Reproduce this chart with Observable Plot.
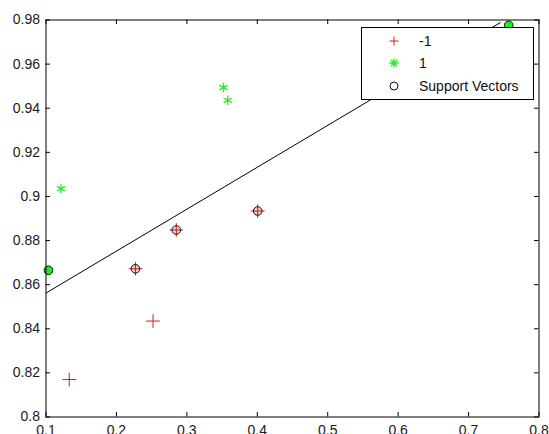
<!DOCTYPE html>
<html>
<head>
<meta charset="utf-8">
<script src="https://cdn.jsdelivr.net/npm/d3@7"></script>
<script src="https://cdn.jsdelivr.net/npm/@observablehq/plot@0.6"></script>
<style>
  html, body { margin: 0; padding: 0; background: #fff; }
  #wrap { position: relative; width: 549px; height: 434px; overflow: hidden; }
  #legend { position: absolute; background: #fff; border: 1px solid #000; box-sizing: border-box;
            font: 14px "Liberation Sans", Arial, sans-serif; color: #111; }
  #legend .row { position: absolute; left: 0; height: 20px; display: flex; align-items: center; }
  #legend svg { display: block; }
</style>
</head>
<body>
<div id="wrap"></div>
<script>
// Class -1 points (not support vectors)
const negX = [0.133, 0.252];
const negY = [0.817, 0.8435];
// Class -1 support vectors
const negSvX = [0.227, 0.285, 0.4006];
const negSvY = [0.8672, 0.8848, 0.8934];
// Class 1 points (not support vectors)
const posX = [0.1213, 0.352, 0.358];
const posY = [0.9035, 0.9494, 0.9436];
// Class 1 support vectors
const posSvX = [0.1035, 0.757];
const posSvY = [0.8665, 0.9776];
// Decision boundary
const lineX = [0.1, 0.745];
const lineY = [0.8562, 0.9788];
// Ticks
const xTicks = [0.1, 0.2, 0.3, 0.4, 0.5, 0.6, 0.7, 0.8];
const xTickLabels = ["0.1", "0.2", "0.3", "0.4", "0.5", "0.6", "0.7", "0.8"];
const yTicks = [0.8, 0.82, 0.84, 0.86, 0.88, 0.9, 0.92, 0.94, 0.96, 0.98];
const yTickLabels = ["0.8", "0.82", "0.84", "0.86", "0.88", "0.9", "0.92", "0.94", "0.96", "0.98"];
// Legend
const legendLabels = ["-1", "1", "Support Vectors"];

const W = 549, H = 434;
const mL = 45.5, mR = 10.5, mT = 19.5, mB = 17.5;
const innerW = W - mL - mR, innerH = H - mT - mB;
const tk = 4.5;

const neg = negX.map((x, i) => ({x, y: negY[i]}));
const negSv = negSvX.map((x, i) => ({x, y: negSvY[i]}));
const pos = posX.map((x, i) => ({x, y: posY[i]}));
const posSv = posSvX.map((x, i) => ({x, y: posSvY[i]}));
const line = lineX.map((x, i) => ({x, y: lineY[i]}));

const red = "#c81e1e", green = "#22ee22";
const fontFamily = '"Liberation Sans", Arial, sans-serif';

const chart = Plot.plot({
  width: W, height: H,
  marginLeft: mL, marginRight: mR, marginTop: mT, marginBottom: mB,
  style: {fontFamily, fontSize: "14px", color: "#1a1a1a", background: "#fff", overflow: "visible"},
  x: {domain: [0.1, 0.8], label: null},
  y: {domain: [0.8, 0.98], label: null},
  marks: [
    Plot.line(line, {x: "x", y: "y", stroke: "#000", strokeWidth: 1, clip: true}),
    // support-vector fills underneath
    Plot.dot(negSv, {x: "x", y: "y", r: 4.3, fill: "#f6cdc3", stroke: "none"}),
    Plot.dot(posSv, {x: "x", y: "y", r: 4.3, fill: green, stroke: "none"}),
    Plot.dot([...neg, ...negSv], {x: "x", y: "y", symbol: "plus", r: 4.5, stroke: red, strokeWidth: 1}),
    Plot.dot([...pos, ...posSv], {x: "x", y: "y", symbol: "asterisk", r: 4.4, stroke: green, strokeWidth: 1.3}),
    Plot.dot([...negSv, ...posSv], {x: "x", y: "y", r: 4.3, fill: "none", stroke: "#111", strokeWidth: 1}),
    // inward ticks on all four sides
    Plot.tickX(xTicks, {x: d => d, insetTop: innerH - tk, stroke: "#000"}),
    Plot.tickX(xTicks, {x: d => d, insetBottom: innerH - tk, stroke: "#000"}),
    Plot.tickY(yTicks, {y: d => d, insetRight: innerW - tk, stroke: "#000"}),
    Plot.tickY(yTicks, {y: d => d, insetLeft: innerW - tk, stroke: "#000"}),
    Plot.axisX({ticks: xTicks, tickSize: 0, tickPadding: 8, label: null, tickFormat: (d, i) => xTickLabels[i], fill: "#1a1a1a", fontSize: 14}),
    Plot.axisY({ticks: yTicks, tickSize: 0, tickPadding: 6, label: null, tickFormat: (d, i) => yTickLabels[i], fill: "#1a1a1a", fontSize: 14}),
    Plot.frame({stroke: "#000", strokeWidth: 1})
  ]
});

const wrap = document.getElementById("wrap");
wrap.appendChild(chart);

// Legend box (MATLAB-style, top-right inside axes)
const lg = document.createElement("div");
lg.id = "legend";
Object.assign(lg.style, {left: "361px", top: "27px", width: "173px", height: "73px"});
const symbols = [
  `<svg width="14" height="14"><path d="M7,2.5V11.5M2.5,7H11.5" stroke="${red}" stroke-width="1"/></svg>`,
  `<svg width="14" height="14"><path d="M7,2.5V11.5M2.5,7H11.5M3.8,3.8L10.2,10.2M10.2,3.8L3.8,10.2" stroke="${green}" stroke-width="1.3"/></svg>`,
  `<svg width="14" height="14"><circle cx="7" cy="7" r="4" fill="none" stroke="#111" stroke-width="1"/></svg>`
];
const rowTops = [3, 25, 48];
legendLabels.forEach((t, i) => {
  const row = document.createElement("div");
  row.className = "row";
  row.style.top = rowTops[i] + "px";
  row.innerHTML = `<span style="position:absolute;left:25px;top:3px">${symbols[i]}</span><span style="position:absolute;left:57px;white-space:nowrap">${t}</span>`;
  lg.appendChild(row);
});
wrap.appendChild(lg);
</script>
</body>
</html>
